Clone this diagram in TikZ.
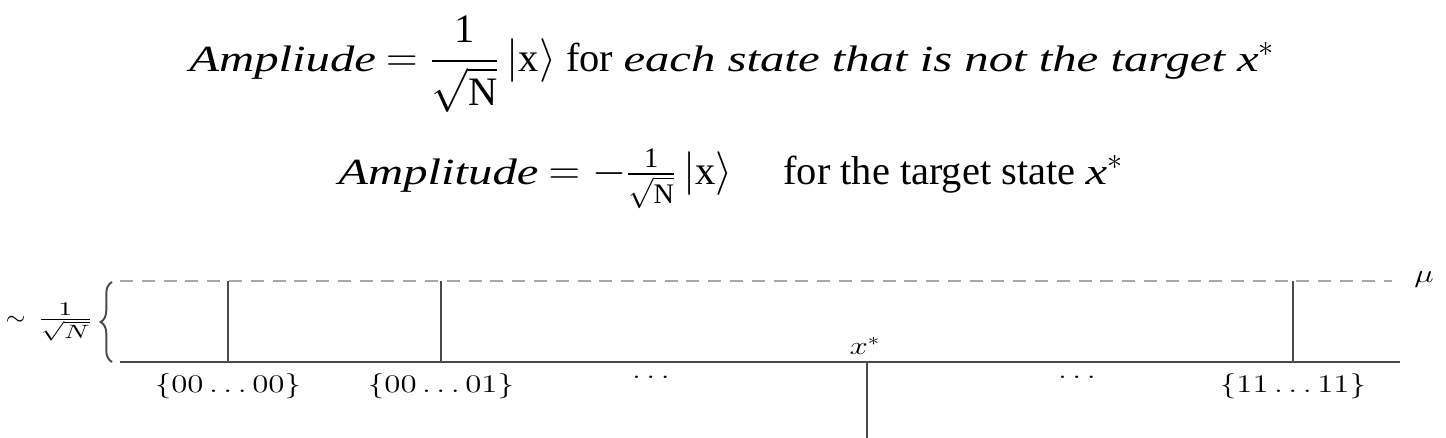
\documentclass[tikz,border=0pt]{standalone}
\usepackage{amsmath}
\usepackage{fontspec}
\setmainfont{Liberation Serif}
\usetikzlibrary{decorations.pathreplacing}
\definecolor{axisgrey}{HTML}{4A4A4A}
\definecolor{levelgrey}{HTML}{A8A8A8}
\newcommand{\mitw}[1]{\scalebox{1.32}[1]{\itshape\fontsize{21}{25}\selectfont #1}}
\newcommand{\widen}[1]{\scalebox{1.3}[1]{#1}}

\begin{document}
\begin{tikzpicture}[x=0.02cm, y=-0.02cm,
    headline/.style={anchor=base west, inner sep=0pt, font=\fontsize{23}{26}\selectfont},
    axis/.style={axisgrey, line width=1.6pt},
    spike/.style={axisgrey, line width=1pt},
    level/.style={levelgrey, dashed, dash pattern=on 7.4pt off 5pt, line width=1.1pt},
    lbl/.style={inner sep=0pt, font=\fontsize{14}{16}\selectfont}]
  \useasboundingbox (0,0) rectangle (1446,438);
  % the two amplitude lines
  \node[headline] (amp) at (189,72)
    {\mitw{Ampliude} $=\dfrac{\text{1}}{\sqrt{\text{N}}}\,|\text{x}\rangle$ for \mitw{each state that is not the target x}$^*$};
  \node[headline] (ampt) at (338,185)
    {\mitw{Amplitude} $=-\tfrac{\text{1}}{\sqrt{\text{N}}}\,|\text{x}\rangle$\quad\ for the target state \mitw{x}$^*$};
  % axis and mean level
  \coordinate (a0) at (120,362); \coordinate (a1) at (1400,362);
  \coordinate (m0) at (120,281); \coordinate (m1) at (1392,281);
  \draw[level] (m0) -- (m1);
  \draw[axis] (a0) -- (a1);
  \node[lbl] (mu) at (1424,280) {\widen{$\mu$}};
  % brace and its label
  \draw[axisgrey, line width=1.1pt, decorate, decoration={brace, amplitude=6.5pt}]
    (112,362) -- (112,282);
  \node[lbl, anchor=east, font=\fontsize{15}{18}\selectfont] (scale) at (93,322)
    {$\sim$\hspace{7pt}\scalebox{1.45}[1]{$\tfrac{1}{\sqrt{N}}$}};
  % states
  \foreach \name/\px/\txt in {s0/228/{00\ldots00}, s1/441/{00\ldots01}, s2/1293/{11\ldots11}} {
    \coordinate (\name b) at (\px,362);
    \coordinate (\name t) at (\px,281);
    \draw[spike] (\name b) -- (\name t);
    \node[lbl, anchor=base] (\name l) at (\px,393) {\widen{$\{\txt\}$}};
  }
  \node[lbl] (dots1) at (651,377) {\widen{$\ldots$}};
  \node[lbl] (dots2) at (1077,377) {\widen{$\ldots$}};
  % target state
  \coordinate (tb) at (867,362); \coordinate (tt) at (867,438);
  \draw[spike] (tb) -- (tt);
  \node[lbl] (target) at (865,346) {\widen{$x^*$}};
\end{tikzpicture}
\end{document}
